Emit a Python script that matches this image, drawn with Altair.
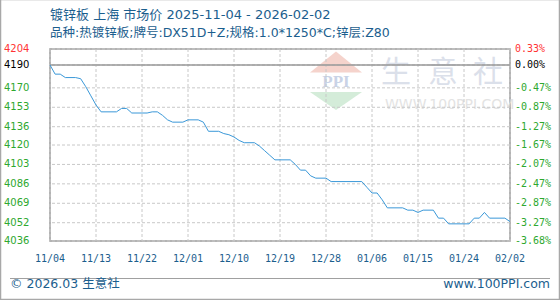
import altair as alt
import pandas as pd

# ---- data ----
dates = [
    "2025-11-04", "2025-11-05", "2025-11-06", "2025-11-07", "2025-11-09", "2025-11-10",
    "2025-11-11", "2025-11-12", "2025-11-13", "2025-11-14", "2025-11-17", "2025-11-18",
    "2025-11-19", "2025-11-20", "2025-11-23", "2025-11-24", "2025-11-25", "2025-11-26",
    "2025-11-27", "2025-11-28", "2025-11-30", "2025-12-01", "2025-12-03", "2025-12-04",
    "2025-12-05", "2025-12-07", "2025-12-08", "2025-12-09", "2025-12-10", "2025-12-11",
    "2025-12-12", "2025-12-14", "2025-12-15", "2025-12-16", "2025-12-17", "2025-12-18",
    "2025-12-21", "2025-12-22", "2025-12-23", "2025-12-24", "2025-12-25", "2025-12-26",
    "2025-12-28", "2025-12-29", "2026-01-04", "2026-01-05", "2026-01-06", "2026-01-07",
    "2026-01-08", "2026-01-09", "2026-01-12", "2026-01-13", "2026-01-14", "2026-01-15",
    "2026-01-16", "2026-01-18", "2026-01-19", "2026-01-20", "2026-01-21", "2026-01-25",
    "2026-01-26", "2026-01-27", "2026-01-28", "2026-01-29", "2026-02-01", "2026-02-02",
]
prices = [
    4190, 4182, 4182, 4179, 4179, 4178,
    4171, 4163, 4155, 4149, 4149, 4152,
    4152, 4148, 4148, 4149, 4149, 4146,
    4142, 4140, 4140, 4142, 4142, 4140,
    4132, 4132, 4130, 4129, 4127, 4124,
    4122, 4122, 4119, 4115, 4111, 4107,
    4107, 4103, 4098, 4098, 4093, 4091,
    4091, 4088, 4088, 4083, 4078, 4078,
    4072, 4065, 4065, 4063, 4063, 4061,
    4063, 4063, 4056, 4056, 4051, 4051,
    4056, 4056, 4061, 4056, 4056, 4053,
]

y_ticks = [4204, 4190, 4170, 4153, 4136, 4120, 4103, 4086, 4069, 4052, 4036]
y_pct = ["0.33%", "0.00%", "-0.47%", "-0.87%", "-1.27%", "-1.67%", "-2.07%",
         "-2.47%", "-2.87%", "-3.27%", "-3.68%"]
y_colors = ["#ff3333", "#000000"] + ["#2ea82e"] * 9
base_price = [4190]

x_tick_dates = ["2025-11-04", "2025-11-13", "2025-11-22", "2025-12-01", "2025-12-10",
                "2025-12-19", "2025-12-28", "2026-01-06", "2026-01-15", "2026-01-24",
                "2026-02-02"]
x_tick_labels = ["11/04", "11/13", "11/22", "12/01", "12/10", "12/19", "12/28",
                 "01/06", "01/15", "01/24", "02/02"]

title_text = "镀锌板 上海 市场价 2025-11-04 - 2026-02-02"
subtitle_text = "品种:热镀锌板;牌号:DX51D+Z;规格:1.0*1250*C;锌层:Z80"
footer_left = "© 2026.03 生意社"
footer_right = "www.100PPI.com"
wm_chars = ["生", "意", "社"]
wm_url = "WWW.100PPI.COM"

# ---- layout ----
W, H = 460, 192
BLUE = "#1b5e8e"
FONT = "DejaVu Sans, Noto Sans CJK SC"
MONO = "DejaVu Sans Mono"

line_df = pd.DataFrame({"date": dates, "price": prices})
yt_df = pd.DataFrame({"v": y_ticks, "pct": y_pct, "c": y_colors, "lab": [str(v) for v in y_ticks]})
xt_df = pd.DataFrame({"date": x_tick_dates, "lab": x_tick_labels})

xs = alt.Scale(nice=False, padding=0)
ys = alt.Scale(domain=[min(y_ticks), max(y_ticks)], nice=False, zero=False)

# watermark
wm_df = pd.DataFrame({"ch": wm_chars, "px": [346, 393, 438]})
watermark = alt.Chart(wm_df).mark_text(
    fontSize=30, font="Noto Sans CJK SC", color="#dbe0ea", baseline="middle", align="center"
).encode(x=alt.X("px:Q", scale=None), y=alt.value(24), text="ch:N")
wm_url_l = alt.Chart(pd.DataFrame({"t": [wm_url]})).mark_text(
    fontSize=14, font="DejaVu Sans", color="#e3e3e3", align="left", baseline="middle"
).encode(x=alt.value(335), y=alt.value(56), text="t:N")
logo_up = alt.Chart(pd.DataFrame({"k": [1]})).mark_point(
    shape="M-1,0.4L1,0.4L0,-0.4Z", size=2704, filled=True, color="#f5d3cc", opacity=1
).encode(x=alt.value(286), y=alt.value(13))
logo_dn = alt.Chart(pd.DataFrame({"k": [1]})).mark_point(
    shape="M-1,-0.35L1,-0.35L0,0.35Z", size=2704, filled=True, color="#d4ecd9", opacity=1
).encode(x=alt.value(286), y=alt.value(52))
logo_txt = alt.Chart(pd.DataFrame({"t": ["PPI"]})).mark_text(
    fontSize=17, font="Liberation Serif", fontWeight="bold", color="#c9d3e6", baseline="middle"
).encode(x=alt.value(286), y=alt.value(33), text="t:N")

# grid
hgrid = alt.Chart(yt_df).mark_rule(color="#c8c8c8", strokeDash=[3, 2], strokeWidth=1).encode(
    y=alt.Y("v:Q", scale=ys, axis=None)
)
vgrid = alt.Chart(xt_df).mark_rule(color="#c8c8c8", strokeDash=[3, 2], strokeWidth=1).encode(
    x=alt.X("date:T", scale=xs, axis=None)
)
baseline = alt.Chart(pd.DataFrame({"v": base_price})).mark_rule(color="#999999", strokeWidth=1.5).encode(
    y=alt.Y("v:Q", scale=ys, axis=None)
)

line = alt.Chart(line_df).mark_line(color="#3a98d8", strokeWidth=1).encode(
    x=alt.X("date:T", scale=xs, axis=None),
    y=alt.Y("price:Q", scale=ys, axis=None),
)

# axis labels
left_lab = alt.Chart(yt_df).mark_text(
    font="DejaVu Sans", fontSize=10, align="left", baseline="middle"
).encode(
    x=alt.value(-46), y=alt.Y("v:Q", scale=ys, axis=None), text="lab:N",
    color=alt.Color("c:N", scale=None),
)
right_lab = alt.Chart(yt_df).mark_text(
    font=MONO, fontSize=10, align="left", baseline="middle"
).encode(
    x=alt.value(465), y=alt.Y("v:Q", scale=ys, axis=None), text="pct:N",
    color=alt.Color("c:N", scale=None),
)
x_lab = alt.Chart(xt_df).mark_text(
    font=MONO, fontSize=10, align="center", baseline="middle", color=BLUE
).encode(
    x=alt.X("date:T", scale=xs, axis=None), y=alt.value(H + 18), text="lab:N"
)

# titles and footer
title = alt.Chart(pd.DataFrame({"t": [title_text]})).mark_text(
    font=FONT, fontSize=13, color=BLUE, align="left", baseline="middle"
).encode(x=alt.value(0), y=alt.value(-34), text="t:N")
subtitle = alt.Chart(pd.DataFrame({"t": [subtitle_text]})).mark_text(
    font=FONT, fontSize=12.5, color=BLUE, align="left", baseline="middle"
).encode(x=alt.value(0), y=alt.value(-16), text="t:N")
foot_line = alt.Chart(pd.DataFrame({"k": [1]})).mark_rule(color="#a0a0a0", strokeWidth=1).encode(
    x=alt.value(-40), x2=alt.value(500), y=alt.value(229.5)
)
foot_l = alt.Chart(pd.DataFrame({"t": [footer_left]})).mark_text(
    font=FONT, fontSize=12.5, color=BLUE, align="left", baseline="middle"
).encode(x=alt.value(-40), y=alt.value(235), text="t:N")
foot_r = alt.Chart(pd.DataFrame({"t": [footer_right]})).mark_text(
    font="DejaVu Sans", fontSize=12.5, color=BLUE, align="right", baseline="middle"
).encode(x=alt.value(500), y=alt.value(235), text="t:N")
frame = alt.Chart(pd.DataFrame({"k": [1]})).mark_rect(
    fill=None, stroke="#a8a8a8", strokeWidth=1.5, filled=False
).encode(x=alt.value(-49.5), x2=alt.value(509.5), y=alt.value(-49.5), y2=alt.value(250.5))

chart = alt.layer(
    watermark, wm_url_l, logo_up, logo_dn, logo_txt,
    hgrid, vgrid, baseline, line,
    left_lab, right_lab, x_lab,
    title, subtitle, foot_line, foot_l, foot_r, frame,
).properties(
    width=W, height=H,
    autosize=alt.AutoSizeParams(type="none"),
    padding={"left": 50, "top": 49, "right": 50, "bottom": 59},
    background="white",
).configure_view(stroke="#9a9a9a", strokeWidth=1.5)

chart.save("out.html", embed_options={"renderer": "svg", "actions": False})
